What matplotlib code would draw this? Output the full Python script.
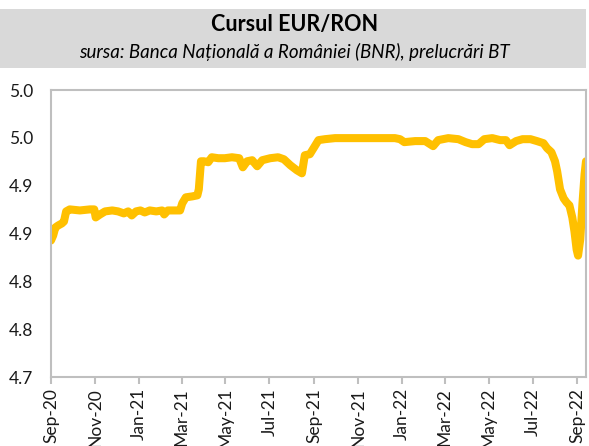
import matplotlib
matplotlib.use("Agg")
import matplotlib.pyplot as plt
import numpy as np
import pandas as pd

# ---- data ----
day_offsets = [0, 3, 6, 10, 15, 18, 21, 26, 40, 54, 60, 62, 68, 75, 85, 93, 101, 107,
               112, 118, 124, 130, 137, 146, 154, 157, 162, 173, 179, 182, 187, 196,
               203, 205, 208, 212, 218, 223, 232, 241, 251, 261, 266, 272, 279, 286,
               293, 304, 315, 323, 332, 341, 348, 352, 359, 365, 371, 380, 394, 415,
               436, 457, 477, 484, 490, 505, 519, 530, 537, 551, 565, 575, 584, 593,
               601, 612, 623, 631, 636, 645, 654, 665, 674, 683, 688, 694, 699, 702,
               706, 711, 715, 719, 723, 726, 729, 731, 734, 737, 740, 742]
eur_ron = [4.8427, 4.8479, 4.8563, 4.8584, 4.8605, 4.8626, 4.8731, 4.8752, 4.8741,
           4.8752, 4.8752, 4.8668, 4.8699, 4.8731, 4.8741, 4.8731, 4.8710, 4.8731,
           4.8689, 4.8731, 4.8741, 4.8720, 4.8741, 4.8731, 4.8741, 4.8699, 4.8741,
           4.8741, 4.8741, 4.8815, 4.8878, 4.8888, 4.8899, 4.8962, 4.9255, 4.9255,
           4.9245, 4.9297, 4.9287, 4.9287, 4.9297, 4.9287, 4.9192, 4.9255, 4.9266,
           4.9203, 4.9266, 4.9287, 4.9297, 4.9276, 4.9213, 4.9161, 4.9129, 4.9318,
           4.9329, 4.9402, 4.9476, 4.9486, 4.9497, 4.9497, 4.9497, 4.9497, 4.9497,
           4.9486, 4.9455, 4.9466, 4.9466, 4.9413, 4.9476, 4.9497, 4.9486, 4.9455,
           4.9434, 4.9434, 4.9486, 4.9497, 4.9476, 4.9476, 4.9423, 4.9466, 4.9486,
           4.9486, 4.9466, 4.9444, 4.9392, 4.9350, 4.9255, 4.9150, 4.8962, 4.8867,
           4.8825, 4.8794, 4.8668, 4.8521, 4.8332, 4.8269, 4.8437, 4.8804, 4.9119,
           4.9255]
start_date = "2020-09-01"
y_ticks = [4.70, 4.75, 4.80, 4.85, 4.90, 4.95, 5.00]
y_tick_labels = ["4.7", "4.8", "4.8", "4.9", "4.9", "5.0", "5.0"]
x_tick_dates = ["2020-09-01", "2020-11-01", "2021-01-01", "2021-03-01", "2021-05-01",
                "2021-07-01", "2021-09-01", "2021-11-01", "2022-01-01", "2022-03-01",
                "2022-05-01", "2022-07-01", "2022-09-01"]
title = "Cursul EUR/RON"
subtitle = "sursa: Banca Națională a României (BNR), prelucrări BT"

dates = pd.Timestamp(start_date) + pd.to_timedelta(day_offsets, unit="D")
tick_dates = pd.to_datetime(x_tick_dates)

plt.rcParams["font.family"] = ["Lato", "DejaVu Sans"]

fig = plt.figure(figsize=(5.89, 4.46), dpi=100)
fig.patch.set_facecolor("white")

# header band
band = plt.Rectangle((0, 1 - 68 / 446), 0.995, (68 - 9) / 446,
                     transform=fig.transFigure, facecolor="#D9D9D9",
                     edgecolor="none", zorder=0)
fig.patches.append(band)
fig.text(0.5, 1 - 25 / 446, title, ha="center", va="center",
         fontsize=15.5, fontweight="bold", color="#000000")
fig.text(0.5, 1 - 52 / 446, subtitle, ha="center", va="center",
         fontsize=13.5, style="italic", color="#000000")

ax = fig.add_axes([51 / 589, 1 - 377 / 446, (586 - 51) / 589, (377 - 90) / 446])
ax.plot(dates, eur_ron, color="#FFC000", lw=5.8, solid_joinstyle="round",
        solid_capstyle="round")

ax.set_ylim(4.70, 5.00)
ax.set_yticks(y_ticks)
ax.set_yticklabels(y_tick_labels)
ax.set_xlim(pd.Timestamp(start_date), pd.Timestamp(start_date) + pd.Timedelta(days=742))
ax.set_xticks(tick_dates)
ax.set_xticklabels([d.strftime("%b-%y") for d in tick_dates], rotation=90)

for s in ax.spines.values():
    s.set_color("#BFBFBF")
    s.set_linewidth(1.5)
ax.tick_params(axis="y", length=0, pad=13, labelsize=12.5, labelcolor="#1a1a1a")
ax.tick_params(axis="x", length=5, width=1.5, color="#BFBFBF", pad=3,
               labelsize=12.5, labelcolor="#1a1a1a")

fig.savefig("out.png", dpi=100)
